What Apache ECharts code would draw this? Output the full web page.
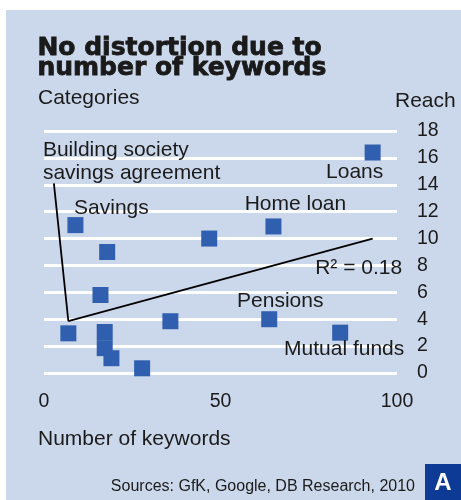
<!DOCTYPE html>
<html>
<head>
<meta charset="utf-8">
<title>No distortion due to number of keywords</title>
<script src="https://cdn.jsdelivr.net/npm/echarts@6/dist/echarts.min.js"></script>
<style>
  html, body { margin: 0; padding: 0; background: #ffffff; }
  #chart { width: 461px; height: 500px; }
</style>
</head>
<body>
<div id="chart"></div>
<script>
// Number of keywords per product category vs. reach
const keywords = [8.9, 17.9, 46.8, 65.0, 16.0, 35.8, 63.8, 83.9, 6.9, 17.2, 17.2, 19.1, 27.8, 93.1];
const reach    = [11.0, 9.0, 10.0, 10.9, 5.8, 3.85, 4.0, 3.0, 2.95, 3.05, 1.85, 1.1, 0.35, 16.4];
const pointNames = ['Savings', '', '', 'Home loan', '', '', 'Pensions', 'Mutual funds',
                    'Building society savings agreement', '', '', '', '', 'Loans'];

// Linear trend (R² = 0.18)
const trendX = [6.9, 93.1];
const trendY = [3.85, 10.0];
const trendLabel = 'R² = 0.18';

// Leader from the "Building society" caption down to its point
const leaderX = [2.8, 6.9];
const leaderY = [14.1, 3.85];
const leaderText = 'Building society\nsavings agreement';

const xTicks = [0, 50, 100];
const yTicks = [0, 2, 4, 6, 8, 10, 12, 14, 16, 18];

const FONT = '"Liberation Sans", Arial, sans-serif';
const INK = '#1b1b1b';
const MARK = '#2f5fae';

// Label placement per named point (offset from the square's centre)
const labelOffsets = {
  'Savings': [36, -17],
  'Home loan': [22, -22],
  'Pensions': [11, -18],
  'Mutual funds': [4, 17],
  'Loans': [-18, 20]
};

const points = keywords.map((x, i) => {
  const name = pointNames[i];
  const off = labelOffsets[name];
  return {
    name: name,
    value: [x, reach[i]],
    label: off ? { show: true, position: 'inside', offset: off, formatter: name } : { show: false }
  };
});

const chart = echarts.init(document.getElementById('chart'), null, { renderer: 'canvas' });

chart.setOption({
  animation: false,
  backgroundColor: 'transparent',
  graphic: [
    { type: 'rect', z: -10, shape: { x: 6, y: 10, width: 455, height: 490 }, style: { fill: '#cbd7ea' } },
    { type: 'text', left: 37, top: 36, style: {
        text: 'No distortion due to\nnumber of keywords', fill: '#1a1a1a',
        stroke: '#1a1a1a', lineWidth: 0.8,
        font: 'bold 25px "DejaVu Sans", sans-serif', lineHeight: 20 } },
    { type: 'text', left: 38, top: 88, style: { text: 'Categories', fill: INK, font: '21px ' + FONT } },
    { type: 'text', left: 395, top: 91, style: { text: 'Reach', fill: INK, font: '21px ' + FONT } },
    { type: 'text', left: 38, top: 429, style: { text: 'Number of keywords', fill: INK, font: '21px ' + FONT } },
    { type: 'text', right: 46, top: 479, style: { text: 'Sources: GfK, Google, DB Research, 2010', fill: INK, font: '16px ' + FONT } },
    { type: 'rect', shape: { x: 425, y: 464, width: 36, height: 36 }, style: { fill: '#0c3a94' } },
    { type: 'text', x: 443, y: 483, style: { text: 'A', fill: '#ffffff', font: 'bold 24px ' + FONT, align: 'center', verticalAlign: 'middle' } }
  ],
  grid: { left: 44, right: 64, top: 131, bottom: 127 },
  xAxis: {
    type: 'value', min: xTicks[0], max: xTicks[xTicks.length - 1], interval: xTicks[1] - xTicks[0],
    axisLine: { show: false }, axisTick: { show: false }, splitLine: { show: false },
    axisLabel: { margin: 19, color: INK, fontSize: 19.5, fontFamily: FONT }
  },
  yAxis: {
    type: 'value', position: 'right', min: yTicks[0], max: yTicks[yTicks.length - 1], interval: yTicks[1] - yTicks[0],
    axisLine: { show: false }, axisTick: { show: false },
    splitLine: { show: true, lineStyle: { color: '#ffffff', width: 3 } },
    axisLabel: { margin: 20, color: INK, fontSize: 19.5, fontFamily: FONT, align: 'left' }
  },
  series: [
    {
      type: 'line', silent: true, symbol: 'circle', symbolSize: 0.1, showSymbol: true, z: 3,
      itemStyle: { color: '#000000' },
      data: trendX.map((x, i) => ({
        value: [x, trendY[i]],
        label: i === 1 ? { show: true, position: 'inside', offset: [-14, 30], formatter: trendLabel } : { show: false }
      })),
      lineStyle: { color: '#000000', width: 1.8 },
      label: { color: INK, fontSize: 21, fontFamily: FONT }
    },
    {
      type: 'line', silent: true, symbol: 'circle', symbolSize: 0.1, showSymbol: true, z: 3,
      itemStyle: { color: '#000000' },
      data: leaderX.map((x, i) => ({
        value: [x, leaderY[i]],
        label: i === 0 ? { show: true, position: 'inside', align: 'left', offset: [-11, -22], formatter: leaderText } : { show: false }
      })),
      lineStyle: { color: '#000000', width: 1.8 },
      label: { color: INK, fontSize: 21, fontFamily: FONT, lineHeight: 23 }
    },
    {
      type: 'scatter', symbol: 'rect', symbolSize: 16, z: 4,
      itemStyle: { color: MARK, opacity: 1 },
      label: { color: INK, fontSize: 21, fontFamily: FONT },
      data: points
    }
  ]
});
</script>
</body>
</html>
